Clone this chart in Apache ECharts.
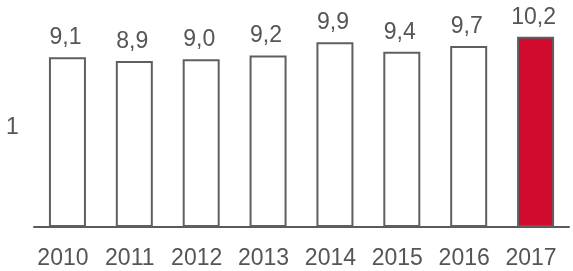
<!DOCTYPE html>
<html>
<head>
<meta charset="utf-8">
<script src="https://cdn.jsdelivr.net/npm/echarts@6/dist/echarts.min.js"></script>
<style>
  html, body { margin: 0; padding: 0; background: #fff; }
  #chart { width: 573px; height: 271px; }
</style>
</head>
<body>
<div id="chart"></div>
<script>
var years = ['2010', '2011', '2012', '2013', '2014', '2015', '2016', '2017']
var values = [9.1, 8.9, 9.0, 9.2, 9.9, 9.4, 9.7, 10.2]
var labels = ['9,1', '8,9', '9,0', '9,2', '9,9', '9,4', '9,7', '10,2']

var chart = echarts.init(document.getElementById('chart'))
var font = '"Liberation Sans", Arial, Helvetica, sans-serif'

var barData = values.map(function (v, i) {
  var last = i == values.length - 1
  return {
    value: v,
    itemStyle: {
      color: last ? '#d10b2e' : '#ffffff'
    }
  }
})

var option = {
  animation: false,
  grid: {
    left: 34,
    right: 4,
    top: 0,
    bottom: 44
  },
  graphic: [{
    type: 'text',
    left: 6,
    top: 116,
    style: {
      text: '1',
      font: '23px ' + font,
      fill: '#555555'
    }
  }],
  xAxis: {
    type: 'category',
    data: years,
    axisLine: { lineStyle: { color: '#5a5a5a', width: 2 } },
    axisTick: { show: false },
    axisLabel: {
      color: '#555555',
      fontSize: 23,
      fontFamily: font,
      margin: 20,
      padding: [0, 9, 0, 0]
    }
  },
  yAxis: {
    type: 'value',
    min: 0,
    max: 12.17,
    show: false,
    splitLine: { show: false }
  },
  series: [{
    type: 'bar',
    data: barData,
    barWidth: 37,
    itemStyle: {
      borderColor: '#5f5f5f',
      borderWidth: 2
    },
    label: {
      show: true,
      position: 'top',
      distance: 8,
      offset: [-2, 0],
      color: '#555555',
      fontSize: 23,
      fontFamily: font,
      formatter: function (p) {
        return labels[p.dataIndex]
      }
    }
  }]
}

chart.setOption(option)
</script>
</body>
</html>
